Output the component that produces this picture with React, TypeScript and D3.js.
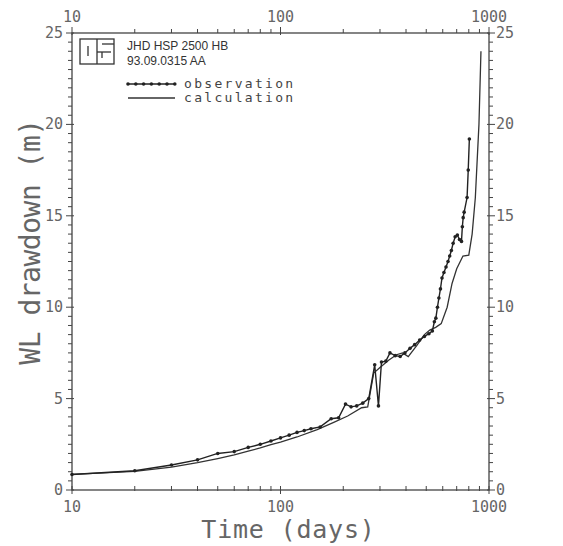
import React, { useRef, useEffect } from 'react';
import * as d3 from 'd3';

// observed drawdown (days, m)
const obsDays = [10, 20, 30, 40, 50, 60, 70, 80, 90, 100, 110, 120, 130, 140, 155, 175, 190, 205, 218, 232, 248, 265, 283, 295, 305, 320, 335, 355, 375, 395, 418, 440, 465, 490, 515, 535, 547, 556, 566, 575, 585, 595, 608, 622, 636, 648, 660, 673, 688, 705, 722, 738, 745, 752, 760, 785, 795, 805];
const obsWL = [0.85, 1.05, 1.37, 1.65, 2.0, 2.1, 2.33, 2.5, 2.68, 2.85, 3.0, 3.15, 3.25, 3.35, 3.45, 3.9, 3.95, 4.7, 4.55, 4.6, 4.75, 5.0, 6.85, 4.6, 7.0, 7.05, 7.5, 7.35, 7.3, 7.5, 7.75, 7.95, 8.2, 8.4, 8.55, 8.7, 9.2, 9.4, 10.0, 10.5, 11.0, 11.6, 11.9, 12.2, 12.5, 12.8, 13.1, 13.5, 13.85, 13.95, 13.7, 13.6, 14.4, 14.9, 15.2, 16.0, 17.5, 19.2];

// calculated drawdown (days, m)
const calcDays = [10, 20, 30, 40, 50, 60, 70, 80, 90, 100, 120, 150, 180, 210, 245, 262, 280, 300, 330, 360, 385, 410, 450, 490, 520, 555, 590, 630, 665, 700, 750, 800, 830, 860, 895, 915];
const calcWL = [0.85, 1.02, 1.25, 1.5, 1.72, 1.92, 2.12, 2.3, 2.48, 2.62, 2.9, 3.3, 3.7, 4.05, 4.5, 4.55, 6.4, 6.7, 7.1, 7.4, 7.5, 7.3, 7.9, 8.5, 8.75, 8.9, 9.1, 10.0, 11.3, 12.1, 12.8, 12.85, 14.0, 16.0, 20.0, 24.0];

const xTicksMajor = [10, 100, 1000];
const yTicksMajor = [0, 5, 10, 15, 20, 25];

const W = 563;
const H = 546;
const L = 72, R = 489, T = 33, B = 490;

const App = () => {
  const svgRef = useRef(null);

  useEffect(() => {
    const svg = d3.select(svgRef.current);
    svg.selectAll('*').remove();

    const x = d3.scaleLog().domain([10, 1000]).range([L, R]);
    const y = d3.scaleLinear().domain([0, 25]).range([B, T]);

    const axisCol = '#444';
    const labelCol = '#666';
    const mono = '"DejaVu Sans Mono", monospace';

    // frame
    svg.append('rect')
      .attr('x', L).attr('y', T).attr('width', R - L).attr('height', B - T)
      .attr('fill', 'none').attr('stroke', axisCol).attr('stroke-width', 1.3);

    // log ticks top & bottom
    x.ticks().forEach((v) => {
      const major = xTicksMajor.includes(v);
      const len = major ? 6 : 4;
      svg.append('line').attr('x1', x(v)).attr('x2', x(v))
        .attr('y1', B - 4).attr('y2', B + (major ? 4 : 1))
        .attr('stroke', axisCol).attr('stroke-width', 1);
      svg.append('line').attr('x1', x(v)).attr('x2', x(v))
        .attr('y1', T + (major ? 2 : 0)).attr('y2', T - len)
        .attr('stroke', axisCol).attr('stroke-width', 1);
    });
    xTicksMajor.forEach((v) => {
      svg.append('text').attr('x', x(v)).attr('y', B + 22)
        .attr('text-anchor', 'middle').attr('font-family', mono)
        .attr('font-size', 15).attr('fill', labelCol).text(v);
      svg.append('text').attr('x', x(v)).attr('y', T - 11)
        .attr('text-anchor', 'middle').attr('font-family', mono)
        .attr('font-size', 15).attr('fill', labelCol).text(v);
    });

    // linear ticks left & right
    d3.range(0, 25.01, 0.5).forEach((v) => {
      const major = Math.abs(v % 5) < 1e-6;
      const len = major ? 6 : 4;
      svg.append('line').attr('x1', L - len).attr('x2', L + (major ? 2 : 0))
        .attr('y1', y(v)).attr('y2', y(v)).attr('stroke', axisCol).attr('stroke-width', 1);
      svg.append('line').attr('x1', R - (major ? 2 : 0)).attr('x2', R + len)
        .attr('y1', y(v)).attr('y2', y(v)).attr('stroke', axisCol).attr('stroke-width', 1);
    });
    yTicksMajor.forEach((v) => {
      svg.append('text').attr('x', L - 9).attr('y', y(v) + 5)
        .attr('text-anchor', 'end').attr('font-family', mono)
        .attr('font-size', 15).attr('fill', labelCol).text(v);
      svg.append('text').attr('x', R + 7).attr('y', y(v) + 5)
        .attr('text-anchor', 'start').attr('font-family', mono)
        .attr('font-size', 15).attr('fill', labelCol).text(v);
    });

    // axis titles
    svg.append('text').attr('x', (L + R) / 2 + 8).attr('y', 538)
      .attr('text-anchor', 'middle').attr('font-family', mono)
      .attr('font-size', 25).attr('letter-spacing', 0.8).attr('fill', labelCol)
      .text('Time (days)');
    svg.append('text')
      .attr('transform', 'translate(40,242) rotate(-90)')
      .attr('text-anchor', 'middle').attr('font-family', mono)
      .attr('font-size', 28).attr('letter-spacing', -0.5).attr('fill', labelCol)
      .text('WL drawdown (m)');

    const line = d3.line().x((d) => x(d[0])).y((d) => y(d[1]));
    const calc = calcDays.map((d, i) => [d, calcWL[i]]);
    const obs = obsDays.map((d, i) => [d, obsWL[i]]);

    svg.append('path').datum(calc).attr('d', line)
      .attr('fill', 'none').attr('stroke', '#333').attr('stroke-width', 1.3);
    svg.append('path').datum(obs).attr('d', line)
      .attr('fill', 'none').attr('stroke', '#222').attr('stroke-width', 1.4);
    svg.selectAll('.dot').data(obs).join('circle').attr('class', 'dot')
      .attr('cx', (d) => x(d[0])).attr('cy', (d) => y(d[1])).attr('r', 1.8)
      .attr('fill', '#222');

    // logo box
    const g = svg.append('g').attr('stroke', '#333').attr('stroke-width', 1.3).attr('fill', 'none');
    g.append('rect').attr('x', 80).attr('y', 39).attr('width', 34).attr('height', 25);
    g.append('line').attr('x1', 88).attr('x2', 88).attr('y1', 46).attr('y2', 56);
    g.append('line').attr('x1', 97).attr('x2', 97).attr('y1', 39).attr('y2', 64);
    g.append('line').attr('x1', 97).attr('x2', 111).attr('y1', 52).attr('y2', 52);
    g.append('line').attr('x1', 102).attr('x2', 114).attr('y1', 44).attr('y2', 44);
    g.append('line').attr('x1', 102).attr('x2', 102).attr('y1', 52).attr('y2', 58);

    svg.append('text').attr('x', 127).attr('y', 50).attr('font-family', '"Liberation Sans", Arial')
      .attr('font-size', 12).attr('fill', '#333').text('JHD HSP 2500 HB');
    svg.append('text').attr('x', 127).attr('y', 65).attr('font-family', '"Liberation Sans", Arial')
      .attr('font-size', 12).attr('fill', '#333').text('93.09.0315 AA');

    // legend
    const lx0 = 128, lx1 = 175;
    svg.append('line').attr('x1', lx0).attr('x2', lx1).attr('y1', 84).attr('y2', 84)
      .attr('stroke', '#222').attr('stroke-width', 1.4);
    d3.range(lx0, lx1 + 1, 7.8).forEach((px) => {
      svg.append('circle').attr('cx', px).attr('cy', 84).attr('r', 1.8).attr('fill', '#222');
    });
    svg.append('line').attr('x1', lx0).attr('x2', lx1).attr('y1', 98).attr('y2', 98)
      .attr('stroke', '#333').attr('stroke-width', 1.3);
    svg.append('text').attr('x', 184).attr('y', 88).attr('font-family', mono)
      .attr('font-size', 13).attr('letter-spacing', 2.3).attr('fill', '#444').text('observation');
    svg.append('text').attr('x', 184).attr('y', 102).attr('font-family', mono)
      .attr('font-size', 13).attr('letter-spacing', 2.3).attr('fill', '#444').text('calculation');
  }, []);

  return (
    <svg ref={svgRef} width={W} height={H} style={{ position: 'absolute', left: 0, top: 0, background: '#fff' }} />
  );
};

export default App;
